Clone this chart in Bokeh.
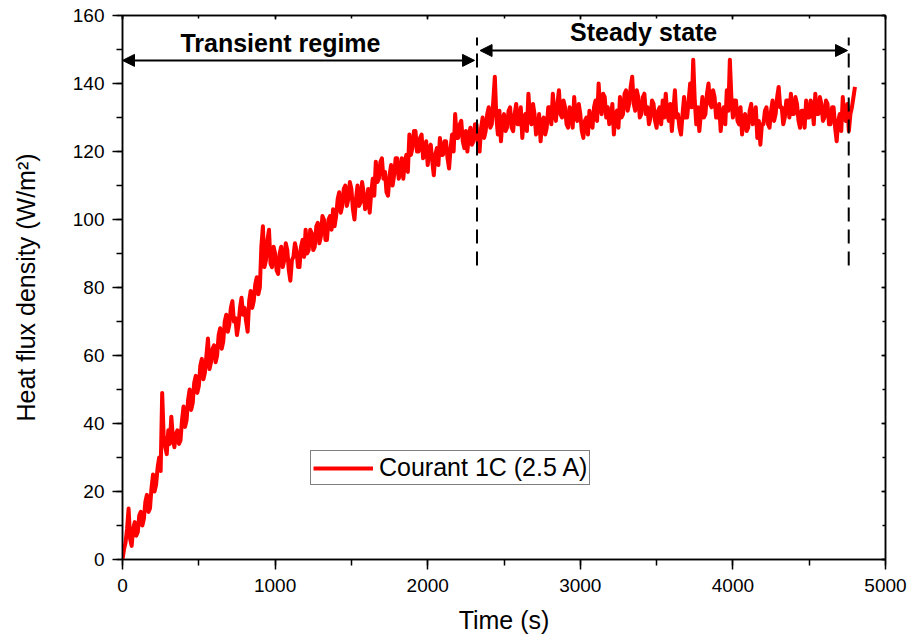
import numpy as np
from bokeh.plotting import figure
from bokeh.models import (LinearAxis, Range1d, Arrow, NormalHead, Label, Legend,
                          LegendItem, SingleIntervalTicker, ColumnDataSource,
                          CustomLabelingPolicy)
from bokeh.embed import file_html
from bokeh.resources import INLINE

# ---- data ----
time_step = 10  # s
heat_flux = [
    0, 3, 5, 9, 15, 6, 4, 9, 11, 7, 8, 13, 14, 10, 12, 17, 19, 14, 15, 21,
    25, 20, 22, 27, 30, 26, 49, 36, 33, 31, 38, 34, 42, 36, 33, 37, 38, 34, 35, 41,
    45, 39, 41, 47, 50, 44, 46, 52, 54, 49, 51, 57, 59, 53, 55, 60, 65, 56, 58, 62,
    63, 58, 60, 66, 68, 62, 64, 70, 72, 67, 69, 74, 76, 70, 71, 66, 69, 74, 77, 72,
    74, 70, 67, 76, 79, 74, 76, 81, 83, 78, 80, 92, 98, 86, 88, 94, 97, 87, 86, 92,
    90, 85, 84, 90, 92, 86, 88, 93, 91, 85, 82, 88, 89, 93, 91, 86, 86, 92, 94, 89,
    97, 90, 91, 97, 96, 91, 92, 98, 99, 93, 95, 101, 100, 94, 94, 100, 101, 97, 103, 98,
    101, 106, 108, 102, 104, 109, 110, 104, 106, 111, 109, 103, 100, 106, 110, 104, 105, 111, 108, 103,
    104, 109, 102, 108, 112, 107, 117, 111, 112, 117, 118, 112, 114, 108, 107, 113, 116, 110, 113, 118,
    118, 112, 114, 118, 112, 117, 119, 114, 125, 119, 121, 126, 126, 120, 120, 124, 125, 118, 119, 123,
    116, 121, 122, 117, 113, 119, 121, 116, 124, 119, 119, 123, 123, 118, 115, 121, 125, 120, 131, 124,
    124, 128, 129, 123, 121, 126, 120, 125, 127, 122, 123, 128, 128, 122, 120, 127, 130, 124, 126, 131,
    133, 127, 128, 135, 142, 130, 125, 132, 123, 129, 131, 126, 127, 132, 133, 127, 126, 131, 134, 128,
    128, 133, 124, 130, 131, 126, 137, 130, 128, 134, 131, 125, 126, 131, 123, 129, 130, 125, 127, 133,
    133, 128, 137, 131, 129, 134, 138, 131, 130, 135, 133, 128, 127, 133, 132, 127, 136, 130, 129, 134,
    131, 126, 124, 129, 130, 125, 132, 128, 127, 133, 135, 129, 140, 133, 131, 137, 136, 130, 133, 128,
    129, 134, 125, 131, 132, 127, 136, 130, 131, 137, 138, 132, 134, 139, 142, 134, 132, 138, 136, 130,
    131, 136, 137, 131, 133, 128, 130, 135, 134, 129, 127, 132, 133, 128, 135, 130, 137, 131, 129, 134,
    126, 132, 138, 130, 131, 127, 125, 131, 136, 130, 130, 135, 140, 133, 147, 135, 128, 133, 126, 131,
    136, 130, 131, 137, 140, 134, 133, 138, 136, 130, 130, 134, 126, 131, 133, 128, 138, 132, 147, 136,
    130, 135, 135, 129, 128, 133, 125, 130, 131, 126, 127, 132, 134, 128, 129, 133, 124, 129, 122, 128,
    128, 132, 133, 128, 127, 132, 135, 129, 131, 136, 139, 133, 133, 128, 130, 135, 135, 130, 137, 131,
    131, 136, 134, 129, 127, 132, 132, 127, 135, 130, 130, 135, 133, 128, 137, 131, 131, 136, 134, 129,
    130, 135, 134, 128, 128, 133, 133, 127, 123, 129, 131, 126, 136, 130, 129, 134, 126, 131, 133, 136,
    139,
]
time_s = np.arange(len(heat_flux)) * time_step

series_label = "Courant 1C (2.5 A)"
x_ticks_interval = 1000
y_ticks_interval = 20

# regime annotation values (data units)
transient_span = [0, 2307]
transient_level = 146.8
steady_span = [2343, 4751]
steady_level = 149.7
boundary_times = [2323, 4759]
boundary_low = [86.5, 86.5]
boundary_high = [153.5, 153.5]
transient_text = ("Transient regime", 1035, 152.0)
steady_text = ("Steady state", 3415, 155.2)

FONT = "Liberation Sans"

p = figure(frame_width=763, frame_height=544,
           x_range=Range1d(0, 5000), y_range=Range1d(0, 160),
           output_backend="svg", toolbar_location=None,
           min_border_left=122, min_border_top=15,
           min_border_right=22, min_border_bottom=70,
           background_fill_color="white", border_fill_color="white")

p.xgrid.visible = False
p.ygrid.visible = False
p.outline_line_color = "black"
p.outline_line_width = 1.5

src = ColumnDataSource(dict(t=time_s, q=heat_flux))
r = p.line("t", "q", source=src, line_color="#ff0000", line_width=4,
           line_join="round")

# main axes
for ax, itv in ((p.xaxis[0], x_ticks_interval), (p.yaxis[0], y_ticks_interval)):
    ax.ticker = SingleIntervalTicker(interval=itv, num_minor_ticks=2)
    ax.axis_line_color = "black"
    ax.axis_line_width = 1.5
    ax.major_tick_line_width = 1.5
    ax.minor_tick_line_width = 1.5
    ax.major_tick_out = 10
    ax.major_tick_in = 0
    ax.minor_tick_out = 6
    ax.minor_tick_in = 0
    ax.major_label_text_font = FONT
    ax.major_label_text_font_size = "19px"
    ax.major_label_text_color = "black"
    ax.axis_label_text_font = FONT
    ax.axis_label_text_font_size = "25px"
    ax.axis_label_text_font_style = "normal"
    ax.axis_label_text_color = "black"

p.xaxis.axis_label = "Time (s)"
p.yaxis.axis_label = "Heat flux density (W/m²)"
p.xaxis.major_label_standoff = 9
p.yaxis.major_label_standoff = 8
p.xaxis.axis_label_standoff = 11
p.yaxis.axis_label_standoff = 30

# mirrored axes (ticks inward, no labels)
no_labels = CustomLabelingPolicy(code="""
    const all = Array.from(indices)
    for (const i of all) indices.unset(i)
    return indices
""")
top = LinearAxis(ticker=SingleIntervalTicker(interval=x_ticks_interval, num_minor_ticks=2))
right = LinearAxis(ticker=SingleIntervalTicker(interval=y_ticks_interval, num_minor_ticks=2))
for ax in (top, right):
    ax.axis_line_width = 1.5
    ax.major_tick_line_width = 1.5
    ax.minor_tick_line_width = 1.5
    ax.major_tick_out = 0
    ax.major_tick_in = 4
    ax.minor_tick_out = 0
    ax.minor_tick_in = 3
    ax.major_label_policy = no_labels
    ax.major_label_text_font_size = "1px"
    ax.major_label_standoff = 0
p.add_layout(top, "above")
p.add_layout(right, "right")

# regime arrows
for span, lvl in ((transient_span, transient_level), (steady_span, steady_level)):
    p.add_layout(Arrow(
        start=NormalHead(size=12, fill_color="black", line_color="black"),
        end=NormalHead(size=12, fill_color="black", line_color="black"),
        x_start=span[0], y_start=lvl, x_end=span[1], y_end=lvl,
        line_color="black", line_width=2))

# dashed boundaries
p.segment(x0=boundary_times, y0=boundary_low, x1=boundary_times, y1=boundary_high,
          line_color="black", line_width=2, line_dash="14 8")

for txt, x, y in (transient_text, steady_text):
    p.add_layout(Label(x=x, y=y, text=txt, text_font=FONT, text_font_size="25px",
                       text_font_style="bold", text_align="center",
                       text_baseline="middle", text_color="black"))

legend = Legend(items=[LegendItem(label=series_label, renderers=[r])],
                location=(188, 74))
legend.border_line_color = "black"
legend.border_line_width = 1
legend.padding = 2
legend.margin = 0
legend.glyph_width = 60
legend.glyph_height = 22
legend.label_standoff = 6
legend.label_text_font = FONT
legend.label_text_font_size = "25px"
legend.label_text_color = "black"
legend.background_fill_alpha = 1
p.add_layout(legend)

open("out.html", "w").write(file_html(p, INLINE))
